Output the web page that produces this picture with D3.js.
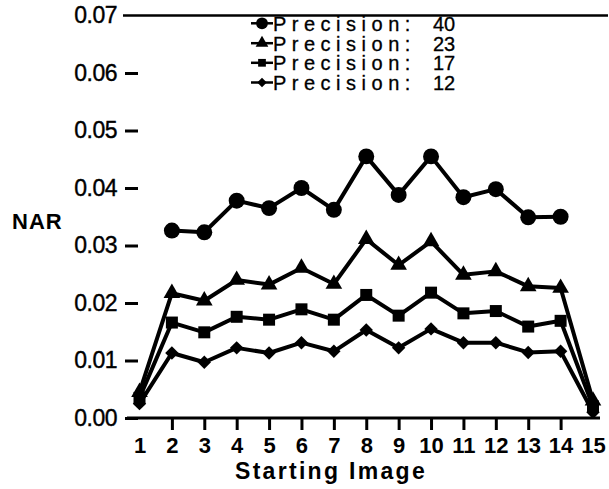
<!DOCTYPE html>
<html>
<head>
<meta charset="utf-8">
<script src="https://cdn.jsdelivr.net/npm/d3@7"></script>
<style>
  body { margin: 0; background: #fff; }
  svg { display: block; font-family: Arial, "Liberation Sans", Helvetica, sans-serif; }
</style>
</head>
<body>
<svg id="chart" width="609" height="489"></svg>
<script>
// data
const images = d3.range(1, 16);
const p40 = [null, 0.0326, 0.0323, 0.0378, 0.0365, 0.0400, 0.0362, 0.0455, 0.0388, 0.0455, 0.0384, 0.0398, 0.0349, 0.0350, null];
const p23 = [0.0045, 0.0217, 0.0204, 0.0240, 0.0232, 0.0261, 0.0233, 0.0311, 0.0266, 0.0307, 0.0249, 0.0255, 0.0229, 0.0226, 0.0030];
const p17 = [0.0035, 0.0166, 0.0149, 0.0176, 0.0171, 0.0189, 0.0171, 0.0214, 0.0178, 0.0218, 0.0182, 0.0186, 0.0159, 0.0169, 0.0020];
const p12 = [0.0025, 0.0113, 0.0097, 0.0122, 0.0113, 0.0131, 0.0116, 0.0153, 0.0122, 0.0155, 0.0131, 0.0131, 0.0114, 0.0116, 0.0010];
const yTicks = [0, 0.01, 0.02, 0.03, 0.04, 0.05, 0.06, 0.07];

const series = [
  { label: 'Precision:', num: '40', values: p40, shape: 'circle' },
  { label: 'Precision:', num: '23', values: p23, shape: 'triangle' },
  { label: 'Precision:', num: '17', values: p17, shape: 'square' },
  { label: 'Precision:', num: '12', values: p12, shape: 'diamond' }
];

const svg = d3.select('#chart');

const x = d3.scaleLinear().domain([1, 15]).range([139.5, 593]);
const y = d3.scaleLinear().domain([0, 0.07]).range([418, 15.5]);

const symbols = {
  circle: d3.symbol().type(d3.symbolCircle).size(200),
  triangle: d3.symbol().type(d3.symbolTriangle).size(120),
  square: d3.symbol().type(d3.symbolSquare).size(144),
  diamond: d3.symbol().type(d3.symbolSquare).size(90)
};
const legendSymbols = {
  circle: d3.symbol().type(d3.symbolCircle).size(110),
  triangle: d3.symbol().type(d3.symbolTriangle).size(70),
  square: d3.symbol().type(d3.symbolSquare).size(60),
  diamond: d3.symbol().type(d3.symbolSquare).size(45)
};
const rot = s => s === 'diamond' ? ' rotate(45)' : '';

// top rule at 0.07
svg.append('line')
  .attr('x1', 123).attr('x2', 608)
  .attr('y1', y(0.07)).attr('y2', y(0.07))
  .attr('stroke', '#000').attr('stroke-width', 2.5);

// y axis (ticks only)
const yAxis = svg.append('g')
  .attr('transform', 'translate(138,0)')
  .call(d3.axisLeft(y).tickValues(yTicks).tickSize(13).tickPadding(8).tickFormat(d3.format('.2f')));
yAxis.select('.domain').remove();
yAxis.selectAll('line').attr('stroke-width', 3);
yAxis.selectAll('text')
  .attr('font-size', 23).attr('letter-spacing', -0.5)
  .attr('font-family', 'Arial, "Liberation Sans", sans-serif')
  .attr('fill', '#000').attr('stroke', '#000').attr('stroke-width', 0.4);
yAxis.selectAll('.tick').filter(d => d === 0.07).select('line').remove();

// x axis
svg.append('line')
  .attr('x1', 127).attr('x2', 600)
  .attr('y1', y(0)).attr('y2', y(0))
  .attr('stroke', '#000').attr('stroke-width', 3);

const xAxis = svg.append('g')
  .attr('transform', `translate(0,${y(0)})`)
  .call(d3.axisBottom(x).tickValues(images).tickSize(12).tickPadding(7).tickFormat(d3.format('d')));
xAxis.select('.domain').remove();
xAxis.selectAll('line').attr('stroke-width', 3);
xAxis.selectAll('.tick').filter(d => d === 1 || d === 15).select('line').remove();
xAxis.selectAll('text')
  .attr('font-size', 22).attr('font-weight', 'bold')
  .attr('font-family', 'Arial, "Liberation Sans", sans-serif').attr('fill', '#000');

// axis titles
svg.append('text')
  .attr('x', 331).attr('y', 479)
  .attr('text-anchor', 'middle')
  .attr('font-size', 23).attr('font-weight', 'bold')
  .attr('letter-spacing', 2.3)
  .text('Starting Image');

svg.append('text')
  .attr('x', 12).attr('y', 229)
  .attr('font-size', 22).attr('font-weight', 'bold')
  .attr('letter-spacing', 1)
  .text('NAR');

// series
const line = d3.line()
  .defined(d => d.v != null)
  .x(d => x(d.i))
  .y(d => y(d.v));

series.forEach(s => {
  const pts = s.values.map((v, k) => ({ i: images[k], v }));
  svg.append('path')
    .datum(pts)
    .attr('d', line)
    .attr('fill', 'none')
    .attr('stroke', '#000')
    .attr('stroke-width', 4)
    .attr('stroke-linejoin', 'round');

  svg.selectAll(null)
    .data(pts.filter(d => d.v != null))
    .enter()
      .append('path')
      .attr('d', symbols[s.shape])
      .attr('transform', d => `translate(${x(d.i)},${y(d.v)})` + rot(s.shape))
      .attr('fill', '#000');
});

// legend
const legend = svg.append('g');
const rowY = [23.3, 43.2, 62.8, 82.5];
series.forEach((s, k) => {
  const g = legend.append('g').attr('transform', `translate(0,${rowY[k]})`);
  g.append('line')
    .attr('x1', 251).attr('x2', 273)
    .attr('stroke', '#000').attr('stroke-width', 2.5);
  g.append('path')
    .attr('d', legendSymbols[s.shape])
    .attr('transform', 'translate(262,0)' + rot(s.shape))
    .attr('fill', '#000');
  const t = g.append('text')
    .attr('y', 7.5)
    .attr('font-size', 20)
    .attr('stroke', '#000').attr('stroke-width', 0.3);
  t.append('tspan').attr('x', 273).attr('letter-spacing', 5.5).text(s.label);
  t.append('tspan').attr('x', 433).text(s.num);
});
</script>
</body>
</html>
